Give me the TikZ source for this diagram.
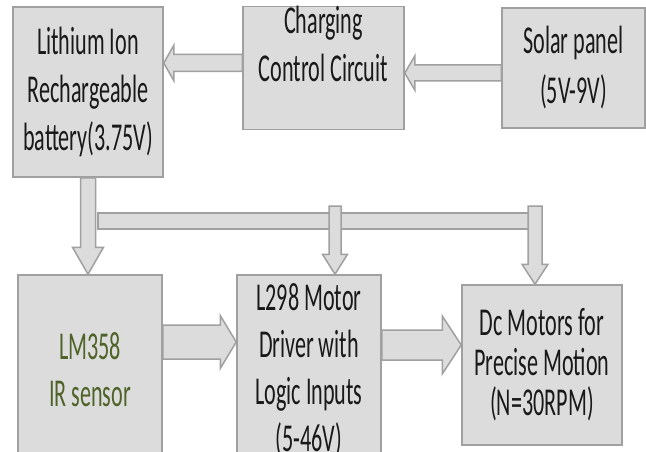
\documentclass[tikz,border=0pt]{standalone}
\usepackage{fontspec}
\setmainfont{Carlito}[FakeStretch=0.56]
\usepackage{xcolor}
\usepackage{tikz}
\usetikzlibrary{calc}

\definecolor{boxfill}{RGB}{220,220,220}
\definecolor{boxline}{RGB}{160,160,160}
\definecolor{olivetext}{RGB}{79,98,40}

% block arrow: start, tip, shaft half width, head half width, head length
\newcommand{\blockarrow}[5]{%
  \path ($(#2)!#5!(#1)$) coordinate (hb);
  \filldraw[arrowbody] ($(#1)!#3!90:(#2)$) -- ($(hb)!#3!90:(#2)$) -- ($(hb)!#4!90:(#2)$) -- (#2)
    -- ($(hb)!#4!-90:(#2)$) -- ($(hb)!#3!-90:(#2)$) -- ($(#1)!#3!-90:(#2)$) -- cycle;
}

\begin{document}
\begin{tikzpicture}[
  x=1pt, y=-1pt,
  box/.style={draw=boxline,fill=boxfill,line width=1.5pt,align=center,inner sep=0pt},
  arrowbody/.style={draw=boxline,fill=boxfill,line width=1.5pt,line join=miter},
  every node/.style={font=\fontsize{39.5}{48}\selectfont,text=black!90}
]
\useasboundingbox (0,0) rectangle (646,452);
\clip (0,0) rectangle (646,452);

% top row
\node[box,minimum width=150pt,minimum height=170pt] (bat) at (88,92) {Lithium Ion\\Rechargeable\\battery(3.75V)};
\node[box,minimum width=161pt,minimum height=120pt] (charge) at (323.5,68) {Charging\\Control Circuit\\~};
\node[box,minimum width=143pt,minimum height=120pt,font=\fontsize{39.5}{50}\selectfont] (solar) at (573.5,68) {Solar panel\\(5V-9V)};

% bottom row
\node[box,minimum width=144pt,minimum height=190pt,text=olivetext,font=\fontsize{39.5}{47}\selectfont] (ir) at (90,370) {LM358\\IR sensor};
\node[box,minimum width=144pt,minimum height=190pt,font=\fontsize{39.5}{47}\selectfont] (drv) at (309,370) {L298 Motor\\Driver with\\Logic Inputs\\(5-46V)};
\node[box,minimum width=160pt,minimum height=160pt,font=\fontsize{39.5}{40}\selectfont] (dc) at (542,365) {Dc Motors for\\Precise Motion\\(N=30RPM)};

% charging path
\blockarrow{charge.west |- 0,63}{bat.east |- 0,63}{8.5pt}{17.5pt}{10pt}
\blockarrow{solar.west |- 0,73}{charge.east |- 0,73}{8pt}{17pt}{10pt}

% supply bus
\blockarrow{bat.south}{bat.south |- ir.north}{7.5pt}{15.5pt}{27pt}
\coordinate (busL) at (98,213);
\coordinate (busR) at (530,229);
\filldraw[arrowbody] (busL) rectangle (busR);
\coordinate (tapM) at (335,206);
\coordinate (tapR) at (535,206);
\blockarrow{tapM}{drv.north -| tapM}{6pt}{12.5pt}{20pt}
\blockarrow{tapR}{dc.north -| tapR}{7pt}{13pt}{20pt}

% signal path
\blockarrow{ir.east |- 0,342}{drv.west |- 0,342}{17pt}{26.5pt}{16pt}
\blockarrow{drv.east |- 0,345}{dc.west |- 0,345}{15pt}{29pt}{19pt}
\end{tikzpicture}
\end{document}
